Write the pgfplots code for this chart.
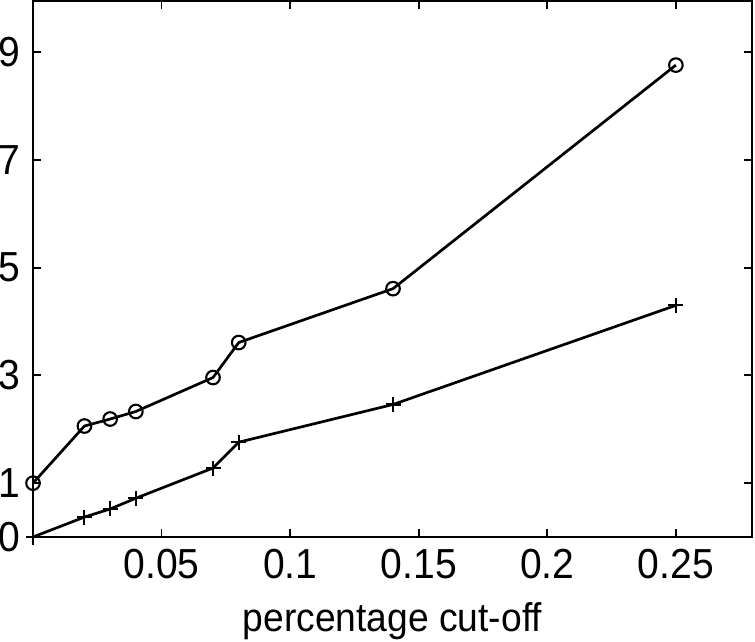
\documentclass[border=0pt]{standalone}
\usepackage{pgfplots}
\pgfplotsset{compat=1.18}
\usepackage{fontspec}
\setmainfont{Liberation Sans}[FakeStretch=0.93]
\begin{document}
\begin{tikzpicture}
\begin{axis}[
  scale only axis,
  width=719pt, height=536pt,
  xmin=0, xmax=0.2796, ymin=0, ymax=9.95,
  xtick={0.05,0.1,0.15,0.2,0.25},
  xticklabels={0.05,0.1,0.15,0.2,0.25},
  ytick={0,1,3,5,7,9},
  tick align=inside,
  major tick length=8pt,
  axis line style={line width=2.4pt},
  every tick/.style={line width=1.8pt, black},
  tick label style={font=\fontsize{42}{44}\selectfont},
  /pgf/number format/assume math mode=true,
  xticklabel style={yshift=-9pt},
  yticklabel style={xshift=-9pt},
  xlabel={percentage cut-off},
  xlabel style={font=\fontsize{40}{42}\selectfont, yshift=-16pt},
  clip=false,
]
\addplot[black, line width=2.7pt, mark=o, mark size=6.8pt, mark options={line width=2.1pt}] coordinates {
(0,1.0) (0.02,2.06) (0.03,2.19) (0.04,2.33) (0.07,2.96) (0.08,3.61) (0.14,4.61) (0.25,8.76)
};
\addplot[black, line width=2.7pt, mark=+, mark size=7.5pt, mark options={line width=2.1pt}] coordinates {
(0,0) (0.02,0.37) (0.03,0.52) (0.04,0.72) (0.07,1.28) (0.08,1.76) (0.14,2.46) (0.25,4.30)
};
\end{axis}
\pgfresetboundingbox
\path[use as bounding box] ([xshift=-33pt,yshift=-104pt]current axis.south west) rectangle ([xshift=3pt,yshift=1pt]current axis.north east);
\end{tikzpicture}
\end{document}
